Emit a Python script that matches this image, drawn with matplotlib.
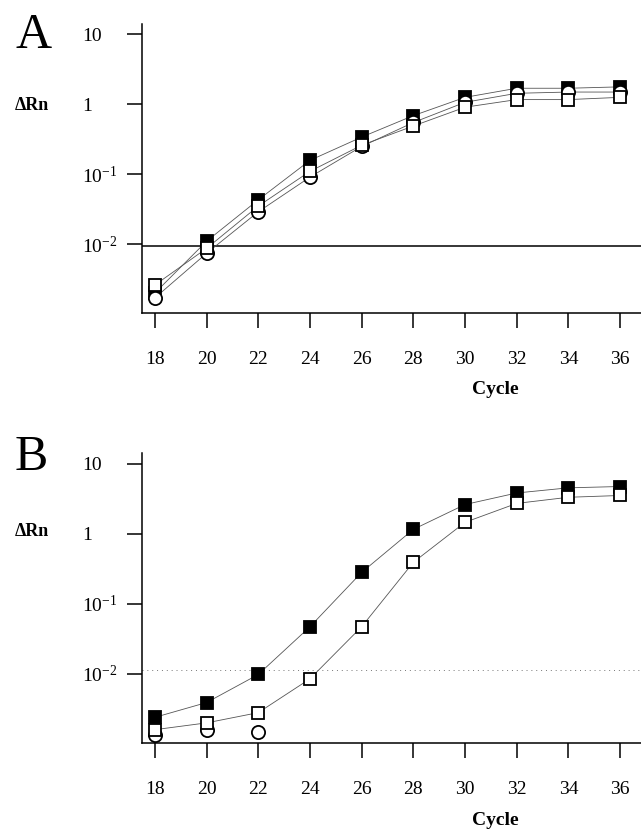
import matplotlib
matplotlib.use("Agg")
import matplotlib.pyplot as plt

plt.rcParams["font.family"] = ["Liberation Serif", "DejaVu Serif"]
plt.rcParams["mathtext.fontset"] = "custom"
plt.rcParams["mathtext.rm"] = "Liberation Serif"

# ---- data ----
cycles = [18, 20, 22, 24, 26, 28, 30, 32, 34, 36]

# panel A
a_filled = [0.0020, 0.011, 0.043, 0.158, 0.34, 0.69, 1.26, 1.70, 1.70, 1.78]
a_open = [0.0026, 0.0087, 0.035, 0.110, 0.26, 0.49, 0.91, 1.17, 1.17, 1.26]
a_circle = [0.0017, 0.0074, 0.029, 0.091, 0.25, 0.55, 1.07, 1.44, 1.50, 1.50]
a_threshold = 0.0093

# panel B
b_filled = [0.0024, 0.0039, 0.0098, 0.047, 0.28, 1.15, 2.6, 3.8, 4.5, 4.7]
b_open = [0.0016, 0.0020, 0.0028, 0.0085, 0.047, 0.39, 1.45, 2.7, 3.3, 3.5]
b_circle_cycles = [18, 20, 22]
b_circle = [0.00135, 0.0016, 0.0015]
b_threshold = 0.0115

ytick_vals = [1e-2, 1e-1, 1, 10]
ytick_labels = [r"$\mathregular{10^{-2}}$", r"$\mathregular{10^{-1}}$", "1", "10"]
xtick_vals = cycles

W, H = 641, 830
fig = plt.figure(figsize=(W / 100, H / 100), dpi=100)


def make_panel(y_top, y_bottom):
    ax = fig.add_axes([142 / W, 1 - y_bottom / H, 1 - 142 / W, (y_bottom - y_top) / H])
    ax.set_yscale("log")
    ax.set_ylim(10 ** -2.986, 10 ** 1.15)
    ax.set_xlim(17.5, 36.81)
    for s in ["top", "right"]:
        ax.spines[s].set_visible(False)
    for s in ["left", "bottom"]:
        ax.spines[s].set_linewidth(1.1)
    ax.set_xticks(xtick_vals)
    ax.set_xticklabels([str(c) for c in xtick_vals], fontsize=14)
    ax.set_yticks(ytick_vals)
    ax.set_yticklabels(ytick_labels, fontsize=14)
    ax.minorticks_off()
    ax.tick_params(axis="x", direction="out", length=11, width=1.1, pad=16)
    ax.tick_params(axis="y", direction="out", length=11, width=1.1, pad=32)
    for lab in ax.get_yticklabels():
        lab.set_horizontalalignment("left")
    return ax


def draw_series(ax, x, y, marker, face, z, line=True):
    if line:
        ax.plot(x, y, "-", color="#555555", lw=0.6, zorder=2)
    ax.plot(x, y, linestyle="none", marker=marker, markersize=9 if marker == "s" else 9.5,
            markerfacecolor=face, markeredgecolor="black", markeredgewidth=1.3,
            zorder=z, clip_on=False)


# ---- panel A ----
axA = make_panel(24, 313)
axA.axhline(a_threshold, color="black", lw=1.1, zorder=1)
draw_series(axA, cycles, a_filled, "s", "black", 3)
draw_series(axA, cycles, a_circle, "o", "white", 4)
draw_series(axA, cycles, a_open, "s", "white", 5)

# ---- panel B ----
axB = make_panel(453, 743)
axB.axhline(b_threshold, color="#777777", lw=0.7, linestyle=(0, (1, 4)), zorder=1)
draw_series(axB, cycles, b_filled, "s", "black", 3)
draw_series(axB, b_circle_cycles, b_circle, "o", "white", 4, line=False)
draw_series(axB, cycles, b_open, "s", "white", 5)

# ---- labels ----
fig.text(15 / W, 1 - 48 / H, "A", fontsize=36, ha="left", va="baseline")
fig.text(15 / W, 1 - 470 / H, "B", fontsize=36, ha="left", va="baseline")
fig.text(15 / W, 1 - 106 / H, "ΔRn", fontsize=13, fontweight="bold", ha="left", va="center")
fig.text(15 / W, 1 - 531 / H, "ΔRn", fontsize=13, fontweight="bold", ha="left", va="center")
fig.text(495 / W, 1 - 389 / H, "Cycle", fontsize=14, fontweight="bold", ha="center", va="center")
fig.text(495 / W, 1 - 820 / H, "Cycle", fontsize=14, fontweight="bold", ha="center", va="center")

fig.savefig("out.png", dpi=100)
